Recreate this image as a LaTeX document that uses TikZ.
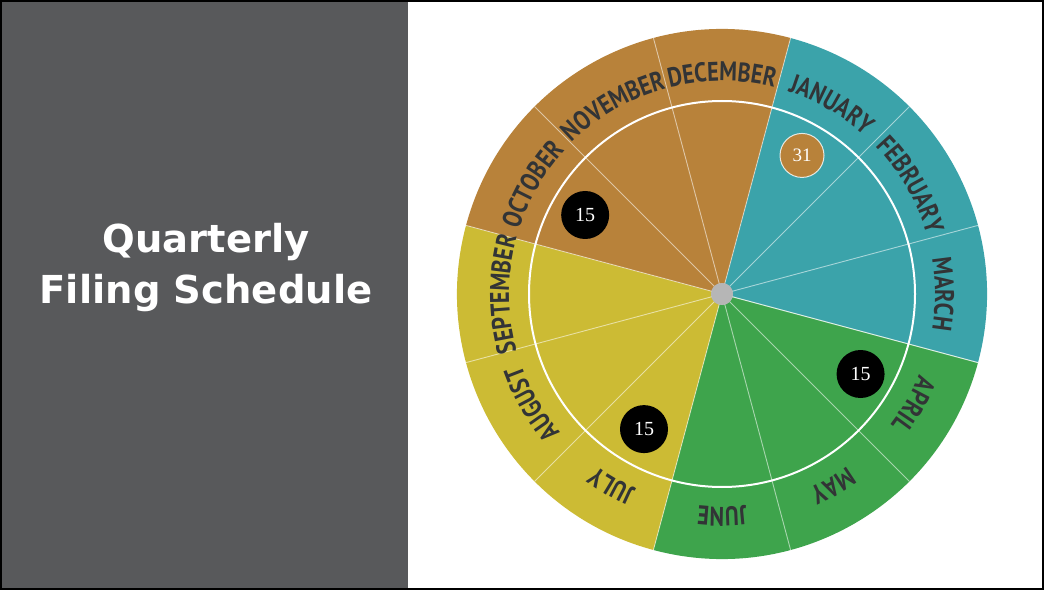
\documentclass[tikz,border=0pt]{standalone}
\usepackage{fontspec}
\usetikzlibrary{decorations.text}
\newfontfamily\titlefont{DejaVu Sans}
\newfontfamily\monthfont[FakeStretch=0.82]{PT Sans}
\newfontfamily\numfont{Liberation Serif}
\definecolor{panelgray}{RGB}{88,89,91}
\definecolor{qone}{RGB}{59,163,170}
\definecolor{qtwo}{RGB}{62,164,76}
\definecolor{qthree}{RGB}{204,187,52}
\definecolor{qfour}{RGB}{184,130,58}
\definecolor{labelgray}{RGB}{50,52,54}
\definecolor{hubgray}{RGB}{182,182,182}

% month name set along the outer ring, centred on angle #1
\newcommand\monthlabel[2]{%
  \path[decorate, decoration={text along path, text align=center,
    text={|\monthfont\bfseries\fontsize{27}{27}\selectfont\color{labelgray}|#2}}]
    (#1+28:213) arc[start angle=#1+28, end angle=#1-28, radius=213];}

\begin{document}
\begin{tikzpicture}[x=1pt, y=1pt,
  spoke/.style={draw=white, draw opacity=0.55, line width=0.9pt},
  daydot/.style={circle, fill=black, minimum size=48pt, inner sep=0pt,
    text=white, font=\numfont\fontsize{20}{20}\selectfont},
  enddot/.style={circle, fill=qfour, draw=white, draw opacity=0.8, line width=1pt,
    minimum size=44pt, inner sep=0pt, text=white, font=\numfont\fontsize{19}{19}\selectfont},
  hub/.style={circle, fill=hubgray, minimum size=22pt, inner sep=0pt}]
\useasboundingbox (0,0) rectangle (1044,590);
\fill[white] (0,0) rectangle (1044,590);
\fill[panelgray] (0,0) rectangle (408,590);
\node[text=white, font=\titlefont\bfseries\fontsize{38.5}{51}\selectfont, align=center]
  (title) at (206,322) {Quarterly\\Filing Schedule};

\begin{scope}[shift={(722,296)}]
  % quarter sectors
  \fill[qone]   (0,0) -- (-15:265) arc[start angle=-15, end angle=75, radius=265] -- cycle;
  \fill[qtwo]   (0,0) -- (-105:265) arc[start angle=-105, end angle=-15, radius=265] -- cycle;
  \fill[qthree] (0,0) -- (-195:265) arc[start angle=-195, end angle=-105, radius=265] -- cycle;
  \fill[qfour]  (0,0) -- (75:265) arc[start angle=75, end angle=165, radius=265] -- cycle;
  % month boundaries
  \foreach \a in {-15,15,...,345} \coordinate (rim\a) at (\a:265);
  \node[hub] (hub) at (0,0) {};
  \foreach \a in {-15,15,...,345} \draw[spoke] (hub.center) -- (rim\a);
  \node[hub] at (0,0) {};
  % inner ring
  \draw[white, line width=2pt] (0,0) circle[radius=193];
  % month names
  \monthlabel{60}{JANUARY}
  \monthlabel{30}{FEBRUARY}
  \monthlabel{0}{MARCH}
  \monthlabel{-30}{APRIL}
  \monthlabel{-60}{MAY}
  \monthlabel{-90}{JUNE}
  \monthlabel{-120}{JULY}
  \monthlabel{-150}{AUGUST}
  \monthlabel{180}{SEPTEMBER}
  \monthlabel{150}{OCTOBER}
  \monthlabel{120}{NOVEMBER}
  \monthlabel{90}{DECEMBER}
  % filing days
  \node[enddot] (jan31) at (60:160) {31};
  \node[daydot] (apr15) at (-30:160) {15};
  \node[daydot] (jul15) at (-120:156) {15};
  \node[daydot] (oct15) at (150:158) {15};
\end{scope}
\draw[black, line width=2pt] (1,1) rectangle (1043,589);
\end{tikzpicture}
\end{document}
